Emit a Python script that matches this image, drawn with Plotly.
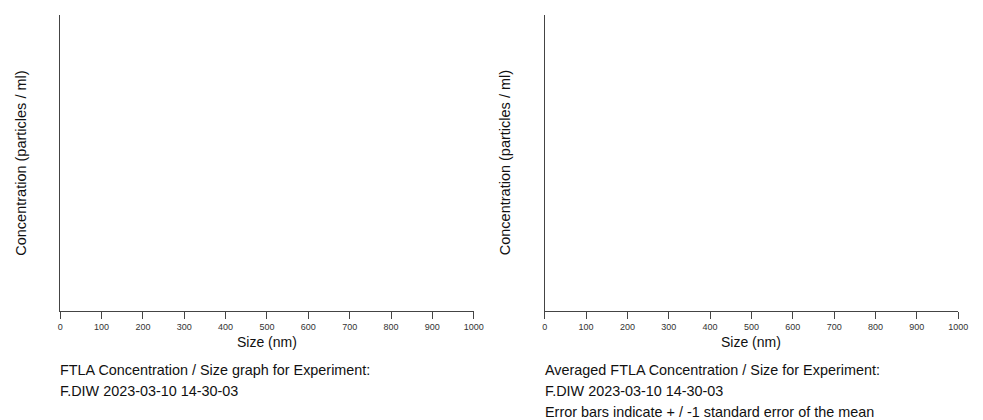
import plotly.graph_objects as go

# Data (the reference chart is empty: no measured points shown)
sizes_nm = []
concentration = []
avg_sizes_nm = []
avg_concentration = []

x_tick_values = [0, 100, 200, 300, 400, 500, 600, 700, 800, 900, 1000]
x_tick_labels = ["0", "100", "200", "300", "400", "500", "600", "700", "800", "900", "1000"]

y_title = "Concentration (particles / ml)"
x_title = "Size (nm)"
left_caption = ["FTLA Concentration / Size graph for Experiment:", "F.DIW 2023-03-10 14-30-03"]
right_caption = ["Averaged FTLA Concentration / Size for Experiment:", "F.DIW 2023-03-10 14-30-03",
                 "Error bars indicate + / -1 standard error of the mean"]

W, H = 983, 420
FONT = "Liberation Sans, Arial, sans-serif"

def px_x(p):
    return p / W

def px_y(p):
    return (H - p) / H

fig = go.Figure()
fig.add_trace(go.Scatter(x=sizes_nm, y=concentration, mode="lines", xaxis="x", yaxis="y",
                         line=dict(color="black"), showlegend=False))
fig.add_trace(go.Scatter(x=avg_sizes_nm, y=avg_concentration, mode="lines", xaxis="x2", yaxis="y2",
                         line=dict(color="black"), showlegend=False))

left_dom = [px_x(58), px_x(477)]
right_dom = [px_x(549), px_x(968)]
y_dom = [px_y(311), px_y(15)]

xaxis_common = dict(range=[0, 1000], tickvals=x_tick_values, ticktext=x_tick_labels,
                    showline=True, linecolor="#444", linewidth=1, ticks="outside", ticklen=7,
                    tickcolor="#444", tickwidth=1, showgrid=False, zeroline=False,
                    tickfont=dict(family=FONT, size=9, color="#333"), fixedrange=True)
yaxis_common = dict(range=[0, 1], showline=True, linecolor="#444", linewidth=1, showticklabels=False,
                    ticks="", showgrid=False, zeroline=False, fixedrange=True)

fig.update_layout(
    width=W, height=H,
    margin=dict(l=0, r=0, t=0, b=0),
    paper_bgcolor="white", plot_bgcolor="white",
    xaxis=dict(domain=left_dom, anchor="y", **xaxis_common),
    yaxis=dict(domain=y_dom, anchor="x", **yaxis_common),
    xaxis2=dict(domain=right_dom, anchor="y2", **xaxis_common),
    yaxis2=dict(domain=y_dom, anchor="x2", **yaxis_common),
    showlegend=False,
    font=dict(family=FONT, color="black"),
)

annotations = []
for dom, cx in ((left_dom, 18), (right_dom, 509)):
    annotations.append(dict(text=y_title, x=px_x(cx), y=px_y(163), xref="paper", yref="paper",
                            textangle=-90, showarrow=False, xanchor="center", yanchor="middle",
                            borderpad=0, font=dict(family=FONT, size=14.5, color="#111")))
    annotations.append(dict(text=x_title, x=(dom[0] + dom[1]) / 2, y=px_y(342), xref="paper", yref="paper",
                            showarrow=False, xanchor="center", yanchor="middle",
                            borderpad=0, font=dict(family=FONT, size=14, color="#111")))

for caption, left in ((left_caption, 57), (right_caption, 548)):
    for i, line in enumerate(caption):
        annotations.append(dict(text=line, x=px_x(left), y=px_y(370 + 21 * i), xref="paper", yref="paper",
                                showarrow=False, xanchor="left", yanchor="middle",
                                borderpad=0, font=dict(family=FONT, size=14.4, color="#111")))

fig.update_layout(annotations=annotations)
fig.write_html("out.html")
